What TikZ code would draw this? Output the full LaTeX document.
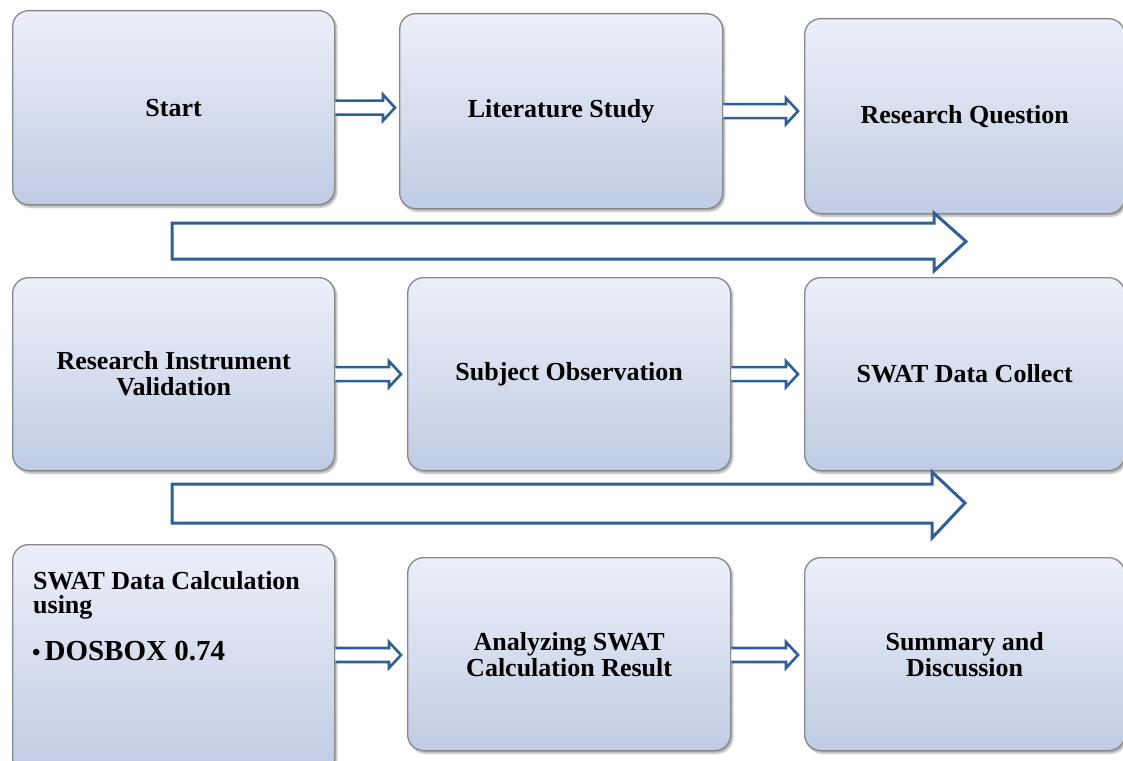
\documentclass[tikz,border=0pt]{standalone}
\usepackage{fontspec}
\setmainfont{Liberation Serif}
\usetikzlibrary{calc,shadows.blur}
\definecolor{boxtop}{RGB}{236,239,248}
\definecolor{boxbot}{RGB}{192,204,228}
\definecolor{boxline}{RGB}{135,135,140}
\definecolor{arrowblue}{RGB}{46,96,150}
\tikzset{
  stepbox/.style={draw=boxline, line width=1.3pt, rounded corners=16pt,
    top color=boxtop, bottom color=boxbot, anchor=north west, inner sep=0pt,
    blur shadow={shadow xshift=2pt, shadow yshift=-2.5pt, shadow blur steps=6, shadow opacity=35},
    font=\bfseries\fontsize{26}{26}\selectfont, align=center},
  hollowarrow/.style={draw=arrowblue, line width=2.6pt, fill=white, line join=miter},
}
\begin{document}
\begin{tikzpicture}[x=1pt,y=-1pt]
\useasboundingbox (0,0) rectangle (1123,760);
% row 1
\node[stepbox, minimum width=322pt, minimum height=194pt] (start) at (12,10) {Start};
\node[stepbox, minimum width=323pt, minimum height=195pt] (lit) at (399,13) {\raisebox{-2pt}{Literature Study}};
\node[stepbox, minimum width=320pt, minimum height=195pt] (rq) at (804,18) {Research Question};
% row 2
\node[stepbox, minimum width=322pt, minimum height=193pt] (riv) at (12,277) {Research Instrument\\Validation};
\node[stepbox, minimum width=323pt, minimum height=193pt] (obs) at (407,277) {\raisebox{-3pt}{Subject Observation}};
\node[stepbox, minimum width=320pt, minimum height=193pt] (col) at (804,277) {\raisebox{-2pt}{SWAT Data Collect}};
% row 3
\node[stepbox, minimum width=322pt, minimum height=230pt] (calc) at (12,544) {};
\node[anchor=north west, inner sep=0pt, align=left, font=\bfseries\fontsize{26}{24}\selectfont] (calctxt) at (33,571) {SWAT Data Calculation\\using};
\node[anchor=base west, inner sep=0pt, font=\bfseries\fontsize{29}{29}\selectfont] (dos) at (32,660) {{\fontsize{24}{24}\selectfont\textbullet}\kern4pt DOSBOX 0.74};
\node[stepbox, minimum width=323pt, minimum height=193pt] (ana) at (407,557) {Analyzing SWAT\\Calculation Result};
\node[stepbox, minimum width=320pt, minimum height=193pt] (sum) at (804,557) {Summary and\\Discussion};
% small hollow arrows: #1 from, #2 to, #3 gap at target
\newcommand{\smallarrow}[3]{%
  \draw[hollowarrow] let \p1=(#1.east), \p2=(#2.west) in
    (\x1,\y1+7pt) -- (\x2-#3-12pt,\y1+7pt) -- (\x2-#3-12pt,\y1+13pt) -- (\x2-#3,\y1)
    -- (\x2-#3-12pt,\y1-13pt) -- (\x2-#3-12pt,\y1-7pt) -- (\x1,\y1-7pt);}
\smallarrow{start}{lit}{4pt}
\smallarrow{lit}{rq}{6pt}
\smallarrow{riv}{obs}{6pt}
\smallarrow{obs}{col}{6pt}
\coordinate (c3) at (calc.east |- 0,655);
\draw[hollowarrow] let \p1=(c3), \p2=(ana.west) in
    (\x1,\y1+7pt) -- (\x2-18pt,\y1+7pt) -- (\x2-18pt,\y1+13pt) -- (\x2-6pt,\y1)
    -- (\x2-18pt,\y1-13pt) -- (\x2-18pt,\y1-7pt) -- (\x1,\y1-7pt);
\coordinate (c4) at (ana.east |- 0,655);
\draw[hollowarrow] let \p1=(c4), \p2=(sum.west) in
    (\x1,\y1+7pt) -- (\x2-18pt,\y1+7pt) -- (\x2-18pt,\y1+13pt) -- (\x2-6pt,\y1)
    -- (\x2-18pt,\y1-13pt) -- (\x2-18pt,\y1-7pt) -- (\x1,\y1-7pt);
% big hollow arrows
\draw[hollowarrow, line width=3pt] (172,223) -- (934,223) -- (934,213) -- (966,241.5)
  -- (934,271) -- (934,259) -- (172,259) -- cycle;
\draw[hollowarrow, line width=3pt] (172,484) -- (932,484) -- (932,472) -- (965,503)
  -- (932,538) -- (932,523) -- (172,523) -- cycle;
\end{tikzpicture}
\end{document}
